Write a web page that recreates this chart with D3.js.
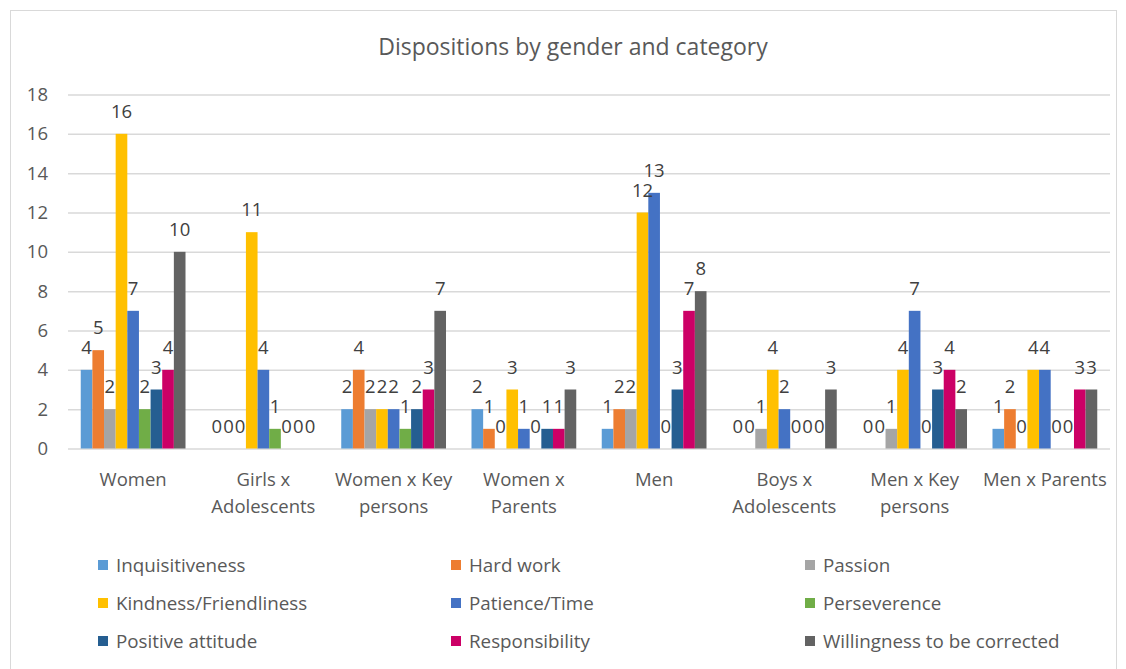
<!DOCTYPE html>
<html>
<head>
<meta charset="utf-8">
<script src="https://cdn.jsdelivr.net/npm/d3@7"></script>
<style>
  html, body { margin: 0; padding: 0; background: #fff; }
  svg { display: block; font-family: "Open Sans", "Noto Sans", sans-serif; }
</style>
</head>
<body>
<svg id="chart" width="1126" height="669"></svg>
<script>
// Categories (x axis) and how their tick labels wrap
const categories = ["Women", "Girls x Adolescents", "Women x Key persons", "Women x Parents",
                    "Men", "Boys x Adolescents", "Men x Key persons", "Men x Parents"];
const categoryLines = [["Women"], ["Girls x", "Adolescents"], ["Women x Key", "persons"], ["Women x", "Parents"],
                       ["Men"], ["Boys x", "Adolescents"], ["Men x Key", "persons"], ["Men x Parents"]];

// Series, one array of counts per disposition (in category order)
const seriesNames = ["Inquisitiveness", "Hard work", "Passion", "Kindness/Friendliness", "Patience/Time",
                     "Perseverence", "Positive attitude", "Responsibility", "Willingness to be corrected"];
const inquisitiveness = [4, 0, 2, 2, 1, 0, 0, 1];
const hardWork        = [5, 0, 4, 1, 2, 0, 0, 2];
const passion         = [2, 0, 2, 0, 2, 1, 1, 0];
const kindness        = [16, 11, 2, 3, 12, 4, 4, 4];
const patience        = [7, 4, 2, 1, 13, 2, 7, 4];
const perseverence    = [2, 1, 1, 0, 0, 0, 0, 0];
const positive        = [3, 0, 2, 1, 3, 0, 3, 0];
const responsibility  = [4, 0, 3, 1, 7, 0, 4, 3];
const willingness     = [10, 0, 7, 3, 8, 3, 2, 3];
const seriesValues = [inquisitiveness, hardWork, passion, kindness, patience,
                      perseverence, positive, responsibility, willingness];
const seriesColors = ["#5B9BD5", "#ED7D31", "#A5A5A5", "#FFC000", "#4472C4",
                      "#70AD47", "#255E91", "#CC0066", "#636363"];

const yTicks = [0, 2, 4, 6, 8, 10, 12, 14, 16, 18];
const title = "Dispositions by gender and category";

const svg = d3.select("#chart");

// chart frame
svg.append("rect")
  .attr("x", 10.5).attr("y", 10.5)
  .attr("width", 1106).attr("height", 680)
  .attr("fill", "#fff").attr("stroke", "#D9D9D9").attr("stroke-width", 1);

const plot = { left: 68, right: 1110, top: 94.5, bottom: 448.5 };

// Clustered columns: gap between clusters = 219% of a bar width
const gapRatio = 2.19;
const innerPad = gapRatio / (seriesNames.length + gapRatio);
const x0 = d3.scaleBand()
  .domain(categories)
  .range([plot.left, plot.right])
  .paddingInner(innerPad)
  .paddingOuter(innerPad / 2);
const x1 = d3.scaleBand()
  .domain(seriesNames)
  .range([0, x0.bandwidth()]);
const y = d3.scaleLinear()
  .domain([0, 18])
  .range([plot.bottom, plot.top]);

// title
svg.append("text")
  .attr("x", 573).attr("y", 55)
  .attr("text-anchor", "middle")
  .attr("font-size", 23)
  .attr("fill", "#595959")
  .text(title);

// horizontal gridlines + y labels
const yAxis = d3.axisLeft(y)
  .tickValues(yTicks)
  .tickSize(-(plot.right - plot.left))
  .tickPadding(20);
const gy = svg.append("g")
  .attr("transform", `translate(${plot.left},0)`)
  .call(yAxis);
gy.select(".domain").remove();
gy.selectAll(".tick line").attr("stroke", "#D9D9D9").attr("stroke-width", 1.5);
gy.selectAll(".tick text")
  .attr("font-size", 18.5)
  .attr("fill", "#595959")
  .attr("font-family", "\"Open Sans\", \"Noto Sans\", sans-serif");

// bars
const groups = svg.append("g").selectAll("g")
  .data(categories)
  .join("g")
  .attr("transform", d => `translate(${x0(d)},0)`);

groups.selectAll("rect")
  .data((c, ci) => seriesNames.map((s, si) => ({ s, si, v: seriesValues[si][ci] })))
  .join("rect")
  .attr("x", d => x1(d.s))
  .attr("y", d => y(d.v))
  .attr("width", x1.bandwidth())
  .attr("height", d => y(0) - y(d.v))
  .attr("fill", d => seriesColors[d.si]);

// value labels (drawn after all bars, series by series)
const labelLayer = svg.append("g");
seriesNames.forEach((s, si) => {
  labelLayer.selectAll(null)
    .data(categories.map((c, ci) => ({ c, v: seriesValues[si][ci] })))
    .join("text")
    .attr("x", d => x0(d.c) + x1(s) + x1.bandwidth() / 2)
    .attr("y", d => y(d.v) - 16)
    .attr("text-anchor", "middle")
    .attr("font-size", 18.5)
    .attr("fill", "#404040")
    .text(d => d.v);
});

// category labels (wrapped)
const cat = svg.append("g").selectAll("text")
  .data(categories)
  .join("text")
  .attr("x", d => x0(d) + x0.bandwidth() / 2)
  .attr("y", 486)
  .attr("text-anchor", "middle")
  .attr("font-size", 18.5)
  .attr("fill", "#595959");
cat.selectAll("tspan")
  .data((d, i) => categoryLines[i])
  .join("tspan")
  .attr("x", function () { return this.parentNode.getAttribute("x"); })
  .attr("dy", (d, i) => i === 0 ? 0 : 27)
  .text(d => d);

// legend: three columns, row-major order
const legendCols = [98, 451, 805];
const legendRows = [565, 603, 641];
const legend = svg.append("g").selectAll("g")
  .data(seriesNames)
  .join("g")
  .attr("transform", (d, i) => `translate(${legendCols[i % 3]},${legendRows[Math.floor(i / 3)]})`);
legend.append("rect")
  .attr("x", 0).attr("y", -5)
  .attr("width", 10).attr("height", 10)
  .attr("fill", (d, i) => seriesColors[i]);
legend.append("text")
  .attr("x", 18).attr("y", 0)
  .attr("dy", "0.35em")
  .attr("font-size", 18.8)
  .attr("fill", "#595959")
  .text(d => d);
</script>
</body>
</html>
